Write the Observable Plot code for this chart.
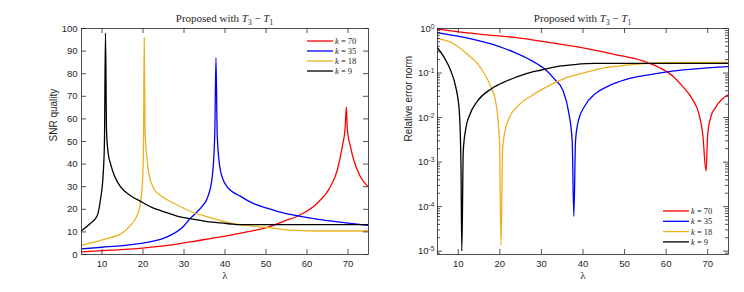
<!DOCTYPE html>
<html><head><meta charset="utf-8">
<script src="https://cdn.jsdelivr.net/npm/d3@7"></script>
<script src="https://cdn.jsdelivr.net/npm/@observablehq/plot@0.6"></script>
<style>
body{margin:0;background:#fff}
#wrap{display:flex;width:744px;height:292px;font-size:0}
</style>
</head><body><div id="wrap"></div>
<script>
// ---- data ----
const seriesK = [70, 35, 18, 9];
const seriesLabels = ["70", "35", "18", "9"];
const seriesColors = ["#ff0000", "#0000ff", "#edb120", "#000000"];
const lambdaTicks = [10, 20, 30, 40, 50, 60, 70];
const snrTicks = [0, 10, 20, 30, 40, 50, 60, 70, 80, 90, 100];
const errTicks = [1e-5, 1e-4, 1e-3, 1e-2, 1e-1, 1];

// SNR quality, [lambda, value]
const snr70 = [[5,1.2],[10,1.7],[17.7,2.5],[25.9,4],[34,6.3],[42,8.8],[46,10.2],[50.3,12],[54.3,14.7],[58.4,17.6],[62.5,22.7],[65.7,30],[67.4,37.4],[68.6,47.7],[69.3,56],[69.6,65.3],[69.85,55],[70.6,47.7],[71.4,41.8],[73,34.5],[75,29.8]];
const snr35 = [[5,2.5],[10,3.2],[17.7,4.5],[22,5.7],[25.9,7.8],[29.9,12.5],[31.3,15.5],[33,18.5],[34.5,21.5],[35.7,25],[36.9,34.5],[37.5,53],[37.8,87],[38.1,53],[38.9,37],[40.5,30],[43.8,25.7],[47,22.5],[50.3,20.5],[54,18.5],[58.4,16.9],[62,15.8],[66.5,14.7],[70,13.9],[75,12.9]];
const snr18 = [[5,4],[8,5.5],[12.1,7.5],[14.5,9],[17,13],[18.5,17],[19.3,22],[19.8,30],[20.1,45],[20.3,96],[20.5,55],[21,42],[21.4,36],[22.6,29.3],[24,26.5],[25.9,24.2],[29.9,20.5],[32,18.8],[34,17.6],[38,15.4],[42,13.6],[46,12.7],[50.3,12],[54.3,11],[58.4,10.6],[62,10.4],[75,10.4]];
const snr9 = [[5,10.5],[7,13.5],[8.8,17],[9.6,24],[10.3,36],[10.6,50],[10.85,98],[11.1,55],[11.5,45],[12.1,40],[13,35],[14.5,30],[17,26],[19.4,23.5],[22,21],[24.3,19.4],[27,17.8],[29.1,16.6],[32,15.7],[34,15.1],[37,14.3],[39,14],[42,13.4],[43.8,13.2],[50,13.2],[60,13.2],[75,13.2]];

// Relative error norm, [lambda, value]
const err70 = [[5,0.97],[15.5,0.74],[23.5,0.63],[31.6,0.49],[39.7,0.37],[47.7,0.26],[54.2,0.19],[58.2,0.135],[61.5,0.087],[63.9,0.051],[66.3,0.026],[67.9,0.012],[68.8,0.0043],[69.6,0.00063],[70.0,0.0043],[70.7,0.01],[71.9,0.017],[73.5,0.026],[75,0.033]];
const err35 = [[5,0.81],[11.45,0.63],[17.9,0.45],[23.5,0.29],[27.6,0.19],[30.8,0.123],[33.2,0.072],[35.2,0.04],[36.5,0.014],[37.4,0.003],[37.8,0.00006],[38.2,0.003],[38.9,0.0085],[40.5,0.0186],[42.9,0.034],[46.1,0.051],[50.2,0.071],[55.8,0.091],[61.5,0.11],[67.9,0.126],[75,0.14]];
const err18 = [[5,0.6],[9,0.45],[12.26,0.26],[14.7,0.16],[16.3,0.095],[17.9,0.048],[19.1,0.02],[19.9,0.003],[20.3,0.0000135],[20.65,0.0018],[21.1,0.0043],[22.3,0.01],[24.4,0.0186],[27.6,0.031],[31.6,0.051],[35.6,0.076],[39.7,0.098],[43.7,0.123],[47.7,0.141],[51.8,0.155],[55.8,0.166],[59.8,0.172],[75,0.174]];
const err9 = [[5,0.37],[6.6,0.224],[8.2,0.112],[9.4,0.048],[10.24,0.014],[10.65,0.0008],[10.85,0.00001],[11.2,0.0018],[11.85,0.006],[12.66,0.011],[14.7,0.024],[17.9,0.044],[21.9,0.068],[26,0.095],[30,0.117],[34,0.141],[38,0.155],[42.9,0.164],[75,0.164]];

const titleMain = "Proposed with ";
const yLabelLeft = "SNR quality";
const yLabelRight = "Relative error norm";
const xLabel = "λ";

// ---- helpers ----
const H = 292, MT = 28, MB = 38;
const INK = "#262626";
const SERIF = "'Liberation Serif','DejaVu Serif',serif";
const SANS = "'Liberation Sans',Arial,sans-serif";

function toRows(lists) {
  const rows = [];
  lists.forEach((list, i) => list.forEach(([l, v]) => rows.push({k: seriesK[i], lambda: l, value: v})));
  return rows;
}

function panel({width, ml, mr, rows, y, yTicks, yMinor, yFmt, yLabel, yLabelDx, tickPad, legend}) {
  const fw = width - ml - mr, fh = H - MT - MB;
  const tk = {stroke: INK, strokeWidth: 0.8};
  const marks = [
    Plot.line(rows, {x: "lambda", y: "value", z: "k", stroke: "k", strokeWidth: 1.3, curve: "monotone-x", clip: true}),
    Plot.frame({stroke: INK, strokeWidth: 0.8}),
    Plot.ruleX(lambdaTicks, {...tk, insetTop: fh - 5}),
    Plot.ruleX(lambdaTicks, {...tk, insetBottom: fh - 5}),
    Plot.ruleY(yTicks, {...tk, insetRight: fw - 5}),
    Plot.ruleY(yTicks, {...tk, insetLeft: fw - 5}),
    Plot.axisX({ticks: lambdaTicks, tickSize: 0, tickPadding: 6, tickFormat: d => String(d), label: null}),
    Plot.axisY({ticks: yTicks, tickSize: 0, tickPadding: tickPad, tickFormat: yFmt, label: null}),
    Plot.text([yLabel], {text: d => d, frameAnchor: "left", dx: yLabelDx, rotate: -90, fontSize: 10, fontFamily: SANS, fill: INK}),
    Plot.text([xLabel], {text: d => d, frameAnchor: "bottom", dy: 24, fontSize: 11, fontFamily: SERIF, fill: INK})
  ];
  if (yMinor) {
    marks.push(Plot.ruleY(yMinor, {...tk, insetRight: fw - 3}));
    marks.push(Plot.ruleY(yMinor, {...tk, insetLeft: fw - 3}));
  }
  const svg = Plot.plot({
    width, height: H, marginLeft: ml, marginRight: mr, marginTop: MT, marginBottom: MB,
    style: {fontFamily: SANS, fontSize: "9.5px", color: INK, background: "#fff", overflow: "visible"},
    x: {domain: [5, 75]},
    y,
    color: {domain: seriesK, range: seriesColors},
    marks
  });
  const s = d3.select(svg);
  // title
  const t = s.append("text").attr("x", ml + fw / 2).attr("y", 22).attr("text-anchor", "middle")
    .attr("font-family", SERIF).attr("font-size", 11).attr("fill", INK);
  t.append("tspan").text(titleMain);
  t.append("tspan").attr("font-style", "italic").text("T");
  t.append("tspan").attr("font-size", 7.5).attr("dy", 2.5).text("3");
  t.append("tspan").attr("dy", -2.5).text(" − ");
  t.append("tspan").attr("font-style", "italic").text("T");
  t.append("tspan").attr("font-size", 7.5).attr("dy", 2.5).text("1");
  // legend
  seriesK.forEach((k, i) => {
    const yy = legend.y + i * legend.dy;
    s.append("line").attr("x1", legend.x).attr("x2", legend.x + 26).attr("y1", yy).attr("y2", yy)
      .attr("stroke", seriesColors[i]).attr("stroke-width", 1.3);
    const tx = s.append("text").attr("x", legend.x + 28).attr("y", yy + 3).attr("text-anchor", "start")
      .attr("font-family", SERIF).attr("font-size", 8.5).attr("fill", INK);
    tx.append("tspan").attr("font-style", "italic").text("k");
    tx.append("tspan").text(" = " + seriesLabels[i]);
  });
  return svg;
}

const wrap = document.getElementById("wrap");

const left = panel({
  width: 372, ml: 81, mr: 4, rows: toRows([snr70, snr35, snr18, snr9]),
  y: {domain: [0, 100]}, yTicks: snrTicks, yFmt: d => String(d),
  yLabel: yLabelLeft, yLabelDx: -28, tickPad: 4,
  legend: {x: 307, y: 41, dy: 10}
});
wrap.appendChild(left);

const minor = [];
for (let e = -6; e < 0; e++) for (let m = 2; m <= 9; m++) { const v = m * Math.pow(10, e); if (v > Math.pow(10, -5.075)) minor.push(v); }

const right = panel({
  width: 372, ml: 65, mr: 16, rows: toRows([err70, err35, err18, err9]),
  y: {type: "log", domain: [Math.pow(10, -5.075), 1]}, yTicks: errTicks, yMinor: minor,
  yFmt: d => String(Math.round(Math.log10(d))),
  yLabel: yLabelRight, yLabelDx: -29, tickPad: 3,
  legend: {x: 291, y: 211, dy: 10.3}
});
d3.select(right).selectAll('g[aria-label="y-axis tick label"] text').each(function () {
  const ex = this.textContent;
  const t = d3.select(this);
  t.text(null);
  t.append("tspan").text("10");
  t.append("tspan").attr("dy", "-0.45em").attr("font-size", "0.7em").text(ex);
});
wrap.appendChild(right);
</script></body></html>
